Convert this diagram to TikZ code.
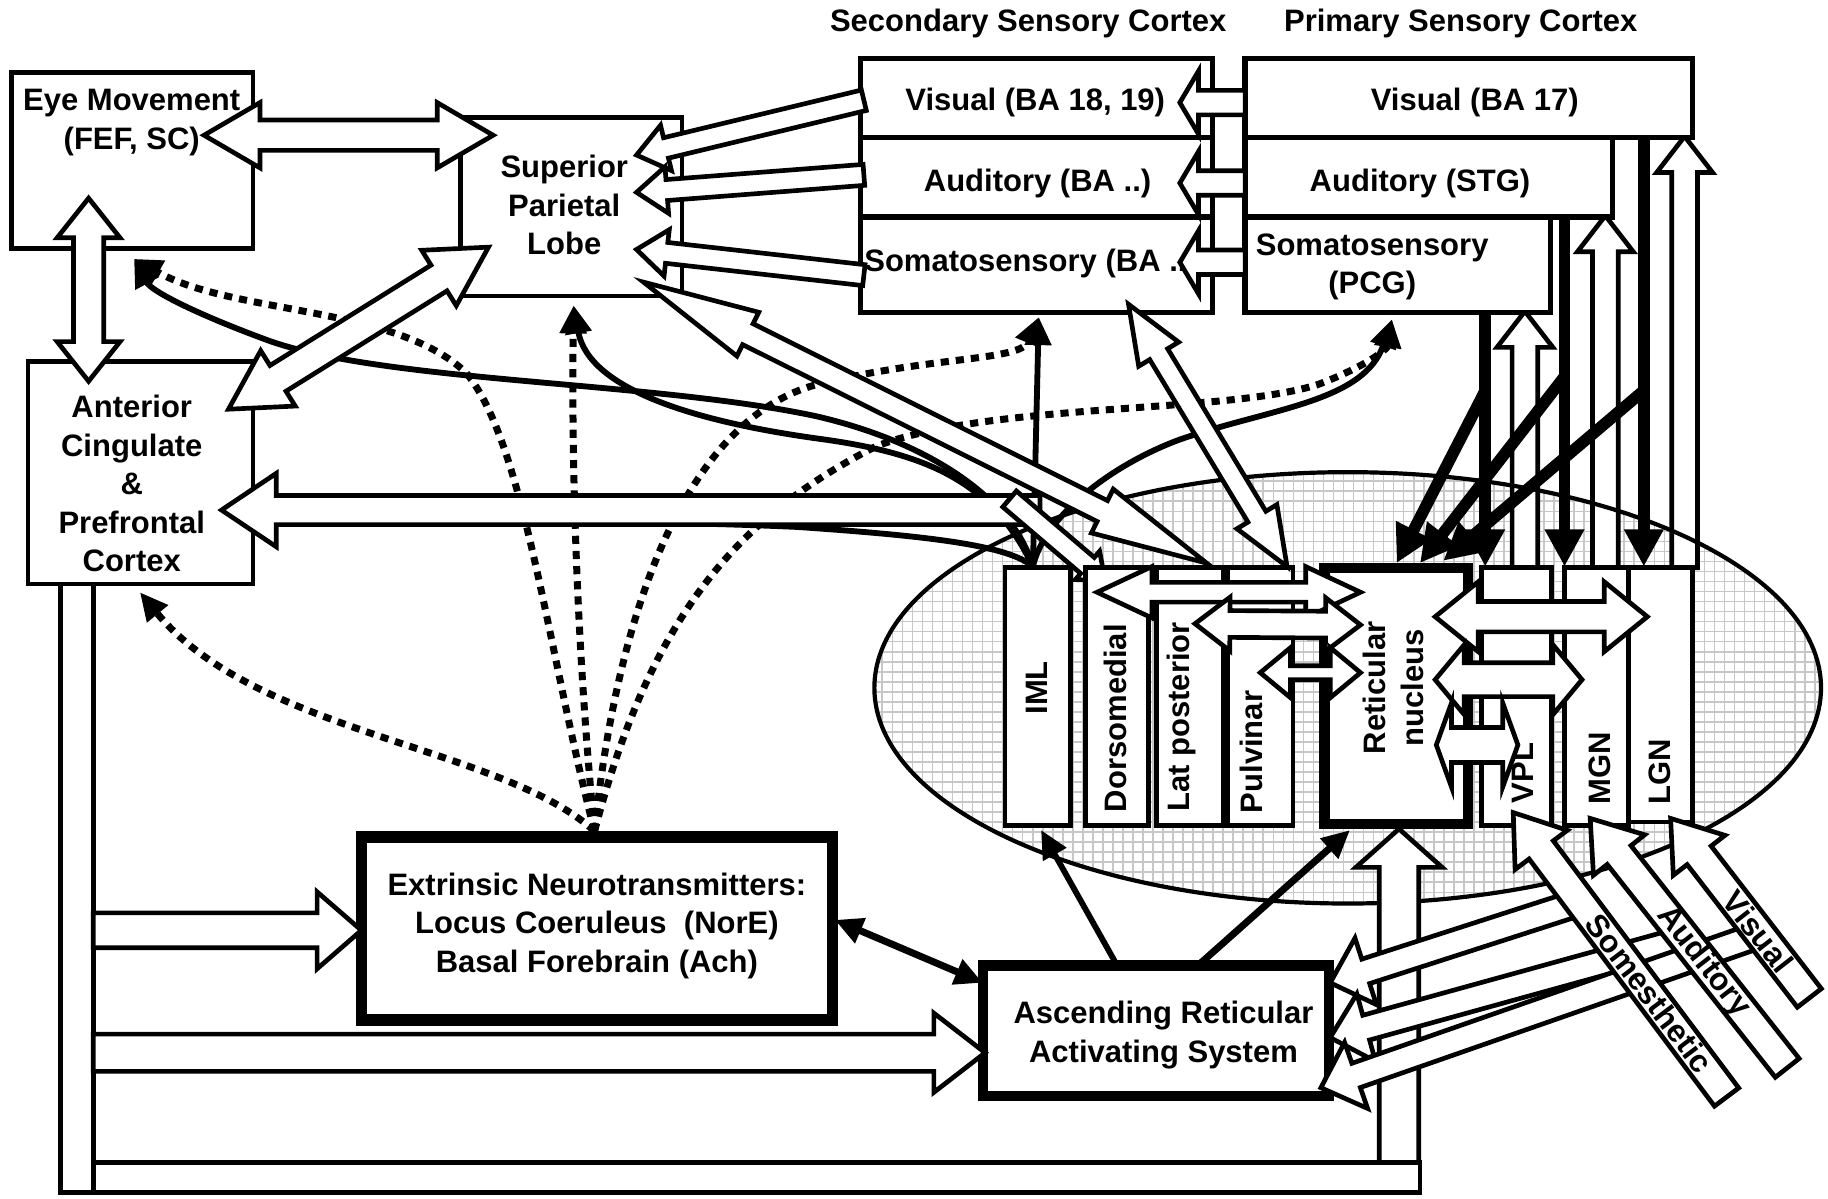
\documentclass[tikz,border=0pt]{standalone}
\usepackage{fontspec}
\setmainfont{Liberation Sans}
\usetikzlibrary{arrows.meta,calc}

\tikzset{
  box/.style={draw, fill=white, line width=2pt, inner sep=0pt},
  lab/.style={font=\fontsize{13.3}{16.5}\selectfont\bfseries, align=center, inner sep=0pt},
  slab/.style={font=\fontsize{13.6}{16}\selectfont\bfseries, inner sep=0pt},
  hol/.style={draw, fill=white, line width=2pt, line join=miter, miter limit=6},
  blk/.style={line width=2.5pt, -{Triangle[width=11pt,length=12pt]}},
  dotc/.style={line width=3pt, dash pattern=on 3.5pt off 3pt, -{Triangle[width=11pt,length=12pt]}},
  heavy/.style={line width=5pt, -{Triangle[width=16pt,length=16pt]}},
}

% single hollow arrow: [style]{from}{tip}{shaft half}{head half}{head length}
\newcommand{\hollow}[6][]{%
  \path ($(#3)!#6!(#2)$) coordinate (hb);
  \draw[hol,#1] ($(#2)!#4!90:(#3)$) -- ($(hb)!#4!90:(#3)$) -- ($(hb)!#5!90:(#3)$) -- (#3)
     -- ($(hb)!#5!-90:(#3)$) -- ($(hb)!#4!-90:(#3)$) -- ($(#2)!#4!-90:(#3)$) -- cycle;
}
% double hollow arrow: [style]{tip1}{tip2}{shaft half}{head half}{head length}
\newcommand{\hollowd}[6][]{%
  \path ($(#2)!#6!(#3)$) coordinate (ha) ($(#3)!#6!(#2)$) coordinate (hb);
  \draw[hol,#1] (#2) -- ($(ha)!#5!90:(#3)$) -- ($(ha)!#4!90:(#3)$) -- ($(hb)!#4!90:(#3)$)
     -- ($(hb)!#5!90:(#3)$) -- (#3) -- ($(hb)!#5!-90:(#3)$) -- ($(hb)!#4!-90:(#3)$)
     -- ($(ha)!#4!-90:(#3)$) -- ($(ha)!#5!-90:(#3)$) -- cycle;
}

\begin{document}
\begin{tikzpicture}[x=0.5pt,y=-0.5pt]
\useasboundingbox (0,0) rectangle (1568,1028);

% ---------- coordinates ----------
\coordinate (es1) at (175,116);   \coordinate (es2) at (423,116);
\coordinate (ea1) at (76,170);    \coordinate (ea2) at (76,327);
\coordinate (as1) at (196,351);   \coordinate (as2) at (419,212);
\coordinate (a1s) at (741,86);    \coordinate (a1t) at (546,133);
\coordinate (a2s) at (741,150);   \coordinate (a2t) at (546,165);
\coordinate (a3s) at (741,236);   \coordinate (a3t) at (546,214);
\coordinate (p1s) at (1068,88);   \coordinate (p1t) at (1012,88);
\coordinate (p2s) at (1068,157);  \coordinate (p2t) at (1012,157);
\coordinate (p3s) at (1068,225);  \coordinate (p3t) at (1012,225);
\coordinate (pfs) at (892,437.5); \coordinate (pft) at (190,437.5);
\coordinate (tps) at (866,428);   \coordinate (tpt) at (948,498);
\coordinate (lt1) at (552,242);   \coordinate (lt2) at (1035,483);
\coordinate (sp1) at (968,261);   \coordinate (sp2) at (1104,486);
\coordinate (be1) at (80,798);    \coordinate (be2) at (310,798);
\coordinate (ba1) at (80,903);    \coordinate (ba2) at (845,903);
\coordinate (bu1) at (1200,997);  \coordinate (bu2) at (1200,711);
\coordinate (u1s) at (1308,487);  \coordinate (u1t) at (1308,267);
\coordinate (u2s) at (1377,487);  \coordinate (u2t) at (1377,185);
\coordinate (u3s) at (1445,487);  \coordinate (u3t) at (1445,117);
\coordinate (ses) at (1481,941);  \coordinate (set) at (1298,697);
\coordinate (aus) at (1533,916);  \coordinate (aut) at (1364,702);
\coordinate (vis) at (1552,856);  \coordinate (vit) at (1433,702);
\coordinate (s1s) at (1355,774);  \coordinate (s1t) at (1141,843);
\coordinate (s2s) at (1445,806);  \coordinate (s2t) at (1141,890);
\coordinate (s3s) at (1500,805);  \coordinate (s3t) at (1133,933);
\coordinate (t1a) at (941,508);   \coordinate (t1b) at (1167,508);
\coordinate (t2a) at (1025,535);  \coordinate (t2b) at (1167,536);
\coordinate (t3a) at (1081,577);  \coordinate (t3b) at (1167,577);
\coordinate (r1a) at (1231,529);  \coordinate (r1b) at (1413,529);
\coordinate (r2a) at (1231,583);  \coordinate (r2b) at (1357,583);
\coordinate (r3a) at (1232,639);  \coordinate (r3b) at (1302,639);
\coordinate (eyein) at (115,222);
\coordinate (splin) at (492,262);
\coordinate (accin) at (120,508);
\coordinate (accin2) at (237,449);
\coordinate (ssin) at (891,272);
\coordinate (psin) at (1194,274);
\coordinate (extTop) at (510,713);
\coordinate (b1s) at (1274,268);  \coordinate (b1t) at (1274,486);
\coordinate (b2s) at (1342,186);  \coordinate (b2t) at (1342,486);
\coordinate (b3s) at (1410,118);  \coordinate (b3t) at (1410,486);
\coordinate (b1m) at (1274,335);  \coordinate (b1d) at (1198,483);
\coordinate (b2m) at (1342,323);  \coordinate (b2d) at (1218,483);
\coordinate (b3m) at (1410,335);  \coordinate (b3d) at (1238,481);
\coordinate (exE) at (716,789);   \coordinate (arW) at (843,843);
\coordinate (ar1) at (957,826);   \coordinate (imlb) at (893,712);
\coordinate (ar2) at (1030,826);  \coordinate (retb) at (1158,712);

% ---------- thalamus background ----------
\begin{scope}
  \clip (1156,590) ellipse [x radius=203pt, y radius=92.5pt];
  \fill[white] (740,395) rectangle (1570,785);
  \draw[black!22, line width=0.7pt, step=4.3pt] (740,395) grid (1570,785);
\end{scope}

% hollow arrows from thalamus to primary cortex
\hollow{u1s}{u1t}{5.5pt}{12pt}{15.5pt}
\hollow{u2s}{u2t}{5.5pt}{12pt}{15.5pt}
\hollow{u3s}{u3t}{5.5pt}{12pt}{15.5pt}

\draw[line width=1.8pt] (1156,590) ellipse [x radius=203pt, y radius=92.5pt];

% ---------- bus ----------
\draw[hol] (52,501) rectangle (80,1023);
\draw[hol] (80,997) rectangle (1218,1023);

% ---------- boxes ----------
\node[box, minimum width=103.5pt, minimum height=75.5pt] (eye) at (113.5,137.5) {};
\node[box, minimum width=95pt, minimum height=76.5pt] (spl) at (490,177.5) {};
\node[box, minimum width=96.5pt, minimum height=95.5pt] (acc) at (120.5,405.5) {};
\node[box, line width=5pt, minimum width=202pt, minimum height=78.5pt] (ext) at (512,796.5) {};
\node[box, line width=4.5pt, minimum width=148.5pt, minimum height=56pt] (aras) at (991.5,884) {};
\node[box, line width=2.3pt, minimum width=151pt, minimum height=34pt] (sv) at (889,84) {};
\node[box, line width=2.3pt, minimum width=151pt, minimum height=34pt] (sa) at (889,152) {};
\node[box, line width=2.3pt, minimum width=151pt, minimum height=41pt] (ss) at (889,227) {};
\node[box, line width=2.3pt, minimum width=192pt, minimum height=34pt] (pv) at (1260,84) {};
\node[box, line width=2.3pt, minimum width=157.5pt, minimum height=34pt] (pa) at (1225.5,152) {};
\node[box, line width=2.3pt, minimum width=131pt, minimum height=41pt] (ps) at (1199,227) {};

\node[lab] (t-sec) at (882,20) {Secondary Sensory Cortex};
\node[lab] (t-pri) at (1253,20) {Primary Sensory Cortex};
\node[lab] (eyet) at (113,105) {Eye Movement\\(FEF, SC)};
\node[lab] (splt) at (484,176) {Superior\\Parietal\\Lobe};
\node[lab] (acct) at (113,415) {Anterior\\Cingulate\\\&\\Prefrontal\\Cortex};
\node[lab] (extt) at (512,794) {Extrinsic Neurotransmitters:\\Locus Coeruleus~~(NorE)\\Basal Forebrain (Ach)};
\node[lab] (arast) at (998,888) {Ascending Reticular\\Activating System};
\node[lab] (svt) at (888,88) {Visual (BA 18, 19)};
\node[lab] (sat) at (890,157) {Auditory (BA ..)};
\node[lab, anchor=west] (sst) at (741,226) {Somatosensory (BA ..)};
\node[lab] (pvt) at (1265,88) {Visual (BA 17)};
\node[lab] (pat) at (1218,157) {Auditory (STG)};
\node[lab] (pst) at (1177,229) {Somatosensory\\(PCG)};

% ---------- dotted projections ----------
\draw[dotc] (extTop) .. controls (470,560) and (450,380) .. (400,320) .. controls (340,262) and (200,270) .. (eyein);
\draw[dotc] (extTop) .. controls (430,640) and (220,630) .. (accin);
\draw[dotc] (extTop) .. controls (495,560) and (490,400) .. (splin);
\draw[dotc] (extTop) .. controls (530,520) and (590,360) .. (700,330) .. controls (800,305) and (875,310) .. (ssin);
\draw[dotc] (extTop) .. controls (560,520) and (640,440) .. (751,383) .. controls (850,345) and (1050,355) .. (1130,330) .. controls (1170,315) and (1190,300) .. (psin);

% ---------- solid projections from IML ----------
\coordinate (imlt) at (886,486);
\draw[blk] (imlt) .. controls (870,430) and (800,380) .. (700,357) .. controls (560,327) and (330,328) .. (230,292) .. controls (170,270) and (130,250) .. (eyein);
\draw[blk] (imlt) .. controls (850,410) and (790,388) .. (700,376) .. controls (600,362) and (505,335) .. (splin);
\draw[line width=2.5pt] (imlt) .. controls (865,468) and (800,460) .. (684,452) .. controls (550,446) and (400,447) .. (accin2);
\draw[blk] (imlt) -- (ssin);
\draw[blk] (imlt) .. controls (895,445) and (950,400) .. (1012,377) .. controls (1090,350) and (1170,345) .. (psin);

\draw[line width=3pt, {Triangle[width=11pt,length=12pt]}-{Triangle[width=11pt,length=12pt]}] (exE) -- (arW);
\draw[line width=2.5pt, -{Triangle[width=11pt,length=12pt]}] (ar1) -- (imlb);
\draw[line width=3pt, -{Triangle[width=11pt,length=12pt]}] (ar2) -- (retb);

% ---------- hollow arrows (cortex) ----------
\hollowd{es1}{es2}{6.5pt}{14pt}{24pt}
\hollowd{ea1}{ea2}{6.5pt}{13.5pt}{17pt}
\hollowd{as1}{as2}{6.5pt}{14pt}{25pt}
\hollow{a1s}{a1t}{4.5pt}{10pt}{13pt}
\hollow{a2s}{a2t}{4.5pt}{10pt}{13pt}
\hollow{a3s}{a3t}{4.5pt}{10pt}{13pt}
\hollow{p1s}{p1t}{5.25pt}{13.5pt}{8pt}
\hollow{p2s}{p2t}{5.25pt}{13.5pt}{8pt}
\hollow{p3s}{p3t}{5.25pt}{13.5pt}{8pt}
\hollow{pfs}{pft}{6.25pt}{15.75pt}{23.5pt}
\hollow{tps}{tpt}{4.5pt}{8pt}{10pt}
\hollow{be1}{be2}{7.5pt}{16.5pt}{19pt}
\hollow{ba1}{ba2}{8pt}{17pt}{22pt}
\hollow{bu1}{bu2}{8.5pt}{18.5pt}{16.5pt}

% ---------- thalamic nuclei ----------
\node[box, minimum width=28pt, minimum height=110.5pt] (iml) at (890,597.5) {};
\node[box, minimum width=27pt, minimum height=110.5pt] (dm) at (958,597.5) {};
\node[box, minimum width=28.5pt, minimum height=110.5pt] (lp) at (1020.5,597.5) {};
\node[box, minimum width=28pt, minimum height=110.5pt] (pul) at (1081,597.5) {};
\node[box, line width=4.5pt, minimum width=61.5pt, minimum height=110pt] (ret) at (1197.5,597) {};
\node[box, minimum width=30pt, minimum height=110.5pt] (vpl) at (1301,597.5) {};
\node[box, minimum width=27.5pt, minimum height=110.5pt] (mgn) at (1369.5,597.5) {};
\node[box, minimum width=27.5pt, minimum height=109pt] (lgn) at (1424.5,596) {};

\node[lab, rotate=90] (imlt-l) at (889,590) {IML};
\node[lab, rotate=90] (dm-l) at (957,616) {Dorsomedial};
\node[lab, rotate=90] (lp-l) at (1013,615) {Lat posterior};
\node[lab, rotate=90] (pul-l) at (1073,645) {Pulvinar};
\node[lab, rotate=90] (ret-l) at (1195,590) {Reticular\\nucleus};
\node[lab, rotate=90] (vpl-l) at (1306,663) {VPL};
\node[lab, rotate=90] (mgn-l) at (1372,659) {MGN};
\node[lab, rotate=90] (lgn-l) at (1424,662) {LGN};

% ---------- thalamic internal arrows ----------
\hollowd{t1a}{t1b}{4.25pt}{11pt}{23.5pt}
\hollowd{t2a}{t2b}{5.75pt}{11.5pt}{15pt}
\hollowd{t3a}{t3b}{3pt}{10.75pt}{13pt}
\hollowd{r1a}{r1b}{6.5pt}{15pt}{18.5pt}
\hollowd{r2a}{r2b}{7.25pt}{15pt}{12.5pt}
\hollowd{r3a}{r3b}{7.5pt}{18pt}{6.5pt}

% ---------- long cortico-thalamic arrows ----------
\hollowd{lt1}{lt2}{5pt}{10.5pt}{50pt}
\hollowd{sp1}{sp2}{4.5pt}{10pt}{25pt}

% ---------- heavy arrows from primary cortex ----------
\draw[heavy] (b1s) -- (b1t);
\draw[heavy] (b2s) -- (b2t);
\draw[heavy] (b3s) -- (b3t);
\draw[heavy] (b1m) -- (b1d);
\draw[heavy] (b2m) -- (b2d);
\draw[heavy] (b3m) -- (b3d);

% ---------- sensory inputs ----------
\hollow{s1s}{s1t}{5.5pt}{15pt}{16pt}
\hollow{s2s}{s2t}{5.5pt}{15pt}{16pt}
\hollow{s3s}{s3t}{5.5pt}{15pt}{16pt}
\hollow{vis}{vit}{6.5pt}{14pt}{20pt}
\hollow{aus}{aut}{6.5pt}{14pt}{20pt}
\hollow{ses}{set}{6.5pt}{14pt}{20pt}
\node[slab, rotate=-53] (som-l) at (1415,852) {Somesthetic};
\node[slab, rotate=-52] (aud-l) at (1461,825) {Auditory};
\node[slab, rotate=-52] (vis-l) at (1508,799) {Visual};

\end{tikzpicture}
\end{document}
